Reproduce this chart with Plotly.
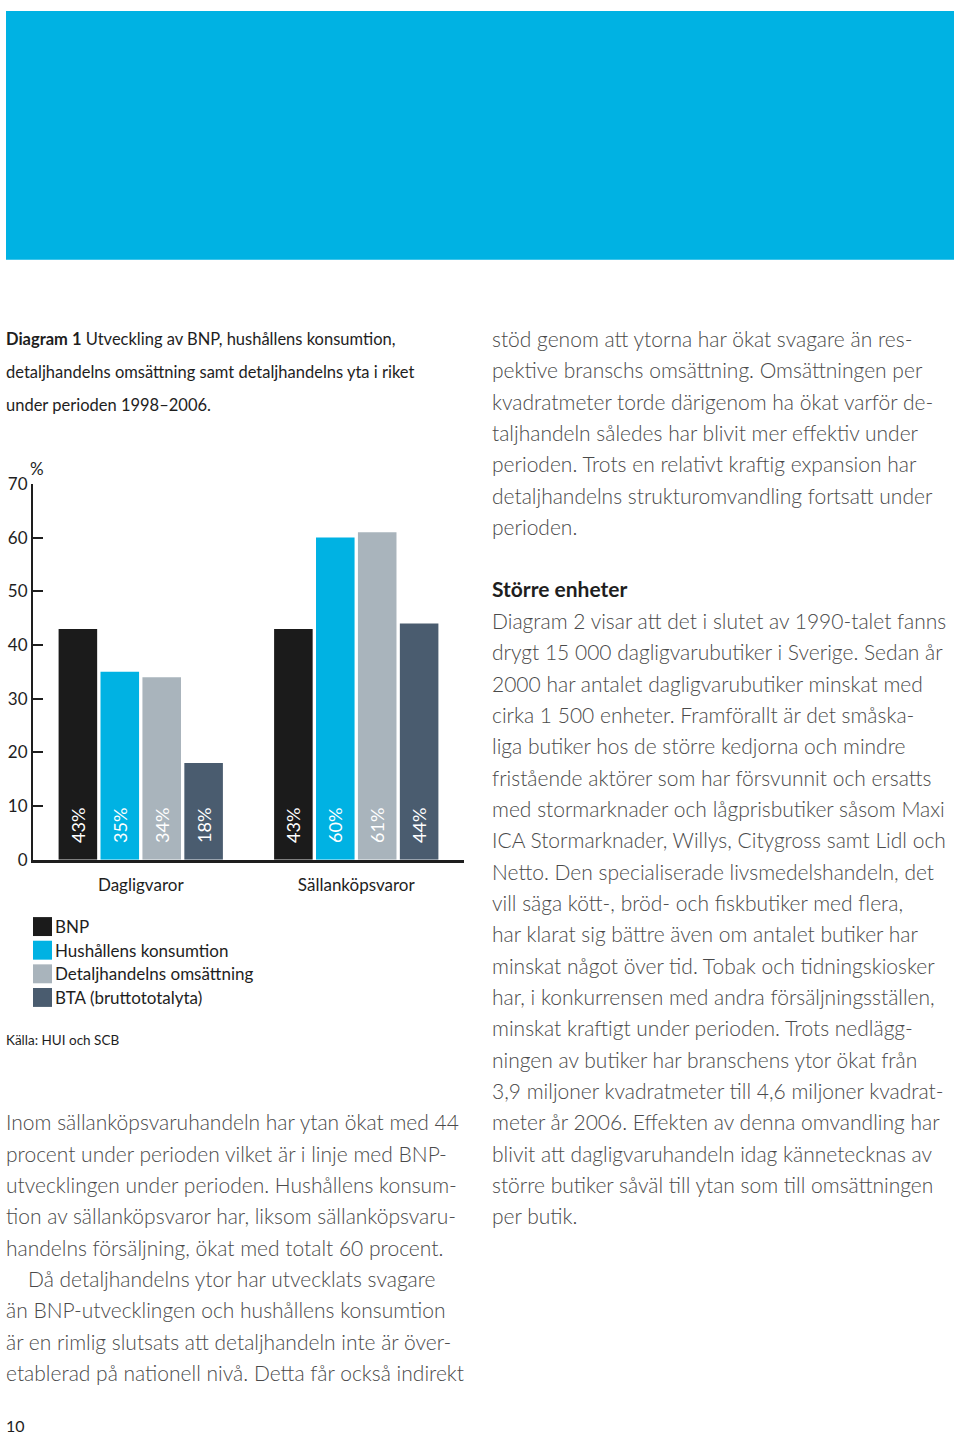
import plotly.graph_objects as go

W, H = 960, 1443

# ---------------- data ----------------
categories = ["Dagligvaror", "Sällanköpsvaror"]
series_names = ["BNP", "Hushållens konsumtion", "Detaljhandelns omsättning", "BTA (bruttototalyta)"]
bnp = [43, 43]
hushall = [35, 60]
detaljhandel = [34, 61]
bta = [18, 44]
y_ticks = [0, 10, 20, 30, 40, 50, 60, 70]

title_lines = [
    "<b>Diagram 1</b> Utveckling av BNP, hushållens konsumtion,",
    "detaljhandelns omsättning samt detaljhandelns yta i riket",
    "under perioden 1998–2006.",
]
source_text = "Källa: HUI och SCB"

right_para1 = [
    "stöd genom att ytorna har ökat svagare än res-",
    "pektive branschs omsättning. Omsättningen per",
    "kvadratmeter torde därigenom ha ökat varför de-",
    "taljhandeln således har blivit mer effektiv under",
    "perioden. Trots en relativt kraftig expansion har",
    "detaljhandelns strukturomvandling fortsatt under",
    "perioden.",
]
heading = "Större enheter"
right_para2 = [
    "Diagram 2 visar att det i slutet av 1990-talet fanns",
    "drygt 15 000 dagligvarubutiker i Sverige. Sedan år",
    "2000 har antalet dagligvarubutiker minskat med",
    "cirka 1 500 enheter. Framförallt är det småska-",
    "liga butiker hos de större kedjorna och mindre",
    "fristående aktörer som har försvunnit och ersatts",
    "med stormarknader och lågprisbutiker såsom Maxi",
    "ICA Stormarknader, Willys, Citygross samt Lidl och",
    "Netto. Den specialiserade livsmedelshandeln, det",
    "vill säga kött-, bröd- och fiskbutiker med flera,",
    "har klarat sig bättre även om antalet butiker har",
    "minskat något över tid. Tobak och tidningskiosker",
    "har, i konkurrensen med andra försäljningsställen,",
    "minskat kraftigt under perioden. Trots nedlägg-",
    "ningen av butiker har branschens ytor ökat från",
    "3,9 miljoner kvadratmeter till 4,6 miljoner kvadrat-",
    "meter år 2006. Effekten av denna omvandling har",
    "blivit att dagligvaruhandeln idag kännetecknas av",
    "större butiker såväl till ytan som till omsättningen",
    "per butik.",
]
left_para = [
    "Inom sällanköpsvaruhandeln har ytan ökat med 44",
    "procent under perioden vilket är i linje med BNP-",
    "utvecklingen under perioden. Hushållens konsum-",
    "tion av sällanköpsvaror har, liksom sällanköpsvaru-",
    "handelns försäljning, ökat med totalt 60 procent.",
    "Då detaljhandelns ytor har utvecklats svagare",
    "än BNP-utvecklingen och hushållens konsumtion",
    "är en rimlig slutsats att detaljhandeln inte är över-",
    "etablerad på nationell nivå. Detta får också indirekt",
]
page_number = "10"

# ---------------- styles ----------------
series_values = [bnp, hushall, detaljhandel, bta]
colors = ["#1b1b1b", "#00b2e3", "#a9b4bc", "#4a5c6f"]
HEADER_BLUE = "#00b2e3"
FONT = "Lato"
INK = "#1e1e1e"
BODY = "#4a4a4a"

# measured: picture y = VS * page y + VB
VS, VB = 0.9885, 8.6


def px(x):
    return x / W


def py(y_pic):
    page_y = (y_pic - VB) / VS
    return 1 - page_y / H


fig = go.Figure()
for name, vals, col in zip(series_names, series_values, colors):
    fig.add_trace(go.Bar(
        x=[0, 1], y=vals, name=name,
        marker=dict(color=col, line=dict(width=0)),
        text=["\u00a0\u00a0\u00a0%d%%" % v for v in vals],
        textposition="inside", insidetextanchor="start", textangle=-90,
        textfont=dict(family=FONT, size=18, color="white"),
        showlegend=False,
    ))

fig.update_layout(
    width=W, height=H,
    margin=dict(l=0, r=0, t=0, b=0),
    paper_bgcolor="white", plot_bgcolor="white",
    barmode="group", bargap=0.222, bargroupgap=0.08,
    showlegend=False,
    xaxis=dict(
        domain=[px(33), px(464)], range=[-0.5, 1.5],
        tickvals=[0, 1], ticktext=categories, ticks="",
        showline=True, linecolor=INK, linewidth=3,
        showgrid=False, zeroline=False,
        tickfont=dict(family=FONT, size=17, color=INK),
        ticklabelstandoff=8,
    ),
    yaxis=dict(
        domain=[py(860), py(483)], range=[0, 70],
        tickvals=y_ticks, ticks="inside", ticklen=10, tickwidth=2, tickcolor=INK,
        showline=True, linecolor=INK, linewidth=2,
        showgrid=False, zeroline=False,
        tickfont=dict(family=FONT, size=17, color=INK),
    ),
)

# header block
fig.add_shape(type="rect", xref="paper", yref="paper",
              x0=px(6), x1=px(954), y0=py(258), y1=min(1.0, py(6)),
              fillcolor=HEADER_BLUE, line=dict(width=0), layer="below")


def txt(x, y, s, size, color, weight=400, xanchor="left"):
    fig.add_annotation(
        x=px(x), y=py(y), xref="paper", yref="paper", text=s,
        showarrow=False, xanchor=xanchor, yanchor="middle", align="left",
        borderpad=0, borderwidth=0,
        font=dict(family=FONT, size=size, color=color, weight=weight),
    )


# title
for i, line in enumerate(title_lines):
    txt(6, 338 + i * 33, line, 16.5, INK)

# % unit label
txt(30, 468, "%", 17, INK)

# legend (swatches + labels)
for i, (name, col) in enumerate(zip(series_names, colors)):
    yc = 927 + i * 23.7
    fig.add_shape(type="rect", xref="paper", yref="paper",
                  x0=px(33), x1=px(52), y0=py(yc + 9.5), y1=py(yc - 9.5),
                  fillcolor=col, line=dict(width=0))
    txt(55, yc, name, 17, INK)

txt(6, 1041, source_text, 13.5, INK)

# right column text
LS = 31.42
for i, line in enumerate(right_para1):
    txt(492, 337 + i * LS, line, 21, BODY, weight=300)
txt(492, 588, heading, 21, INK, weight=700)
for i, line in enumerate(right_para2):
    txt(492, 620 + i * LS, line, 21, BODY, weight=300)

# left column text
for i, line in enumerate(left_para):
    x0 = 28 if i == 5 else 6
    txt(x0, 1123 + i * LS, line, 21, BODY, weight=300)

txt(6, 1427, page_number, 16, INK)

fig.write_html("out.html", config={"displayModeBar": False},
               post_script="document.body.style.margin='0';document.body.style.overflow='hidden';")
